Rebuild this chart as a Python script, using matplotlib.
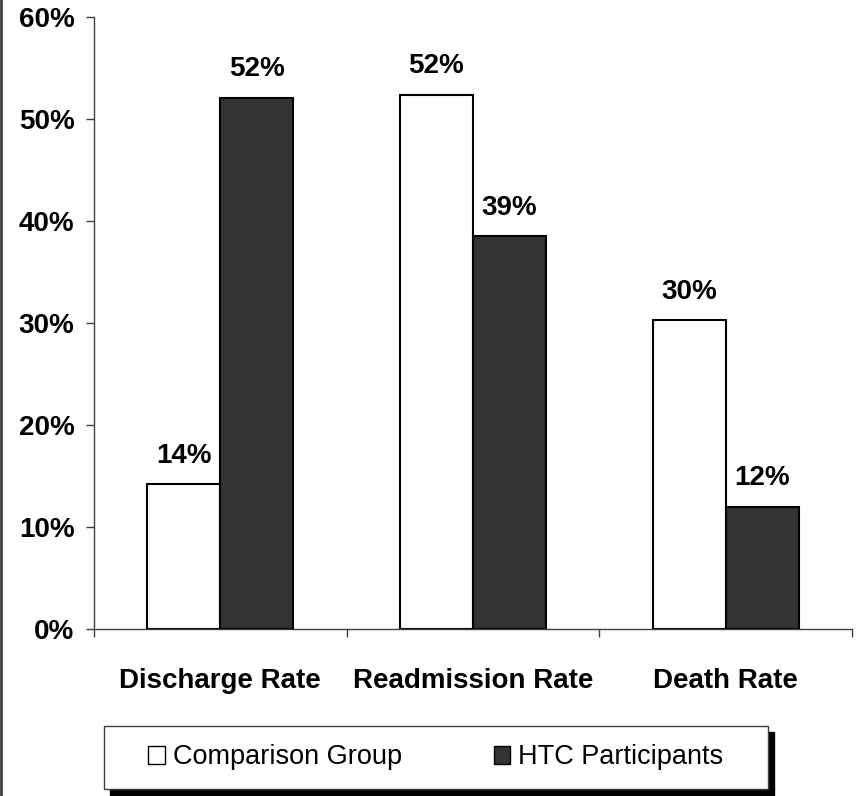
import matplotlib.pyplot as plt
from matplotlib.patches import Rectangle
from matplotlib.lines import Line2D
import numpy as np

# Dados do gráfico
categorias = ['Discharge Rate', 'Readmission Rate', 'Death Rate']
grupo_comparacao = [14.2, 52.4, 30.3]
participantes_htc = [52.1, 38.5, 12.0]
rotulos_comp = ['14%', '52%', '30%']
rotulos_htc = ['52%', '39%', '12%']
series = ['Comparison Group', 'HTC Participants']

plt.rcParams['font.family'] = ['Liberation Sans', 'DejaVu Sans']

fig = plt.figure(figsize=(8.65, 7.96), dpi=100)
ax = fig.add_axes([94 / 865, 1 - 629 / 796, (852 - 94) / 865, (629 - 17) / 796])

x = np.arange(len(categorias))
largura = 0.289

b1 = ax.bar(x - largura / 2, grupo_comparacao, largura, color='white',
            edgecolor='black', linewidth=1.5, label=series[0])
b2 = ax.bar(x + largura / 2, participantes_htc, largura, color='#333333',
            edgecolor='black', linewidth=1.5, label=series[1])

# Rótulos acima das barras
for barras, rotulos in ((b1, rotulos_comp), (b2, rotulos_htc)):
    for barra, txt in zip(barras, rotulos):
        ax.annotate(txt, (barra.get_x() + barra.get_width() / 2, barra.get_height()),
                    xytext=(0, 11), textcoords='offset points', ha='center', va='bottom',
                    fontsize=20, fontweight='bold')

ax.set_xlim(-0.5, 2.5)
ax.set_ylim(0, 60)
ax.set_yticks(np.arange(0, 61, 10))
ax.set_yticklabels([f'{v}%' for v in range(0, 61, 10)], fontsize=20, fontweight='bold')
ax.tick_params(axis='y', direction='out', length=6, width=1, pad=8, color='#404040')

ax.set_xticks([-0.5, 0.5, 1.5, 2.5])
ax.set_xticklabels([])
ax.set_xticks(x, minor=True)
ax.set_xticklabels(categorias, minor=True, fontsize=20, fontweight='bold')
ax.tick_params(axis='x', which='major', direction='out', length=6, width=1, color='#404040')
ax.tick_params(axis='x', which='minor', length=0, pad=28)

for lado in ('top', 'right'):
    ax.spines[lado].set_visible(False)
for lado in ('left', 'bottom'):
    ax.spines[lado].set_color('#404040')
    ax.spines[lado].set_linewidth(1)

# Caixa da legenda com sombra
x0, y0 = 104 / 865, 1 - 789 / 796
w, h = (768 - 104) / 865, 63 / 796
fig.add_artist(Rectangle((x0 + 6 / 865, y0 - 6 / 796), w, h, transform=fig.transFigure,
                         facecolor='black', edgecolor='black', zorder=1))
fig.add_artist(Rectangle((x0, y0), w, h, transform=fig.transFigure,
                         facecolor='white', edgecolor='#404040', linewidth=1, zorder=2))

leg = fig.legend(handles=[b1, b2], labels=series, loc='center',
                 bbox_to_anchor=(x0 + w / 2, y0 + h / 2), ncol=2, frameon=False,
                 fontsize=19.5, handlelength=0.6, handleheight=0.6,
                 handletextpad=0.3, columnspacing=3.4)
leg.set_zorder(3)
for hnd in leg.legend_handles:
    hnd.set_linewidth(1)

# Borda esquerda
fig.add_artist(Line2D([0.0015, 0.0015], [0, 1], transform=fig.transFigure,
                      color='#404040', linewidth=2))

fig.savefig('out.png', dpi=100)
